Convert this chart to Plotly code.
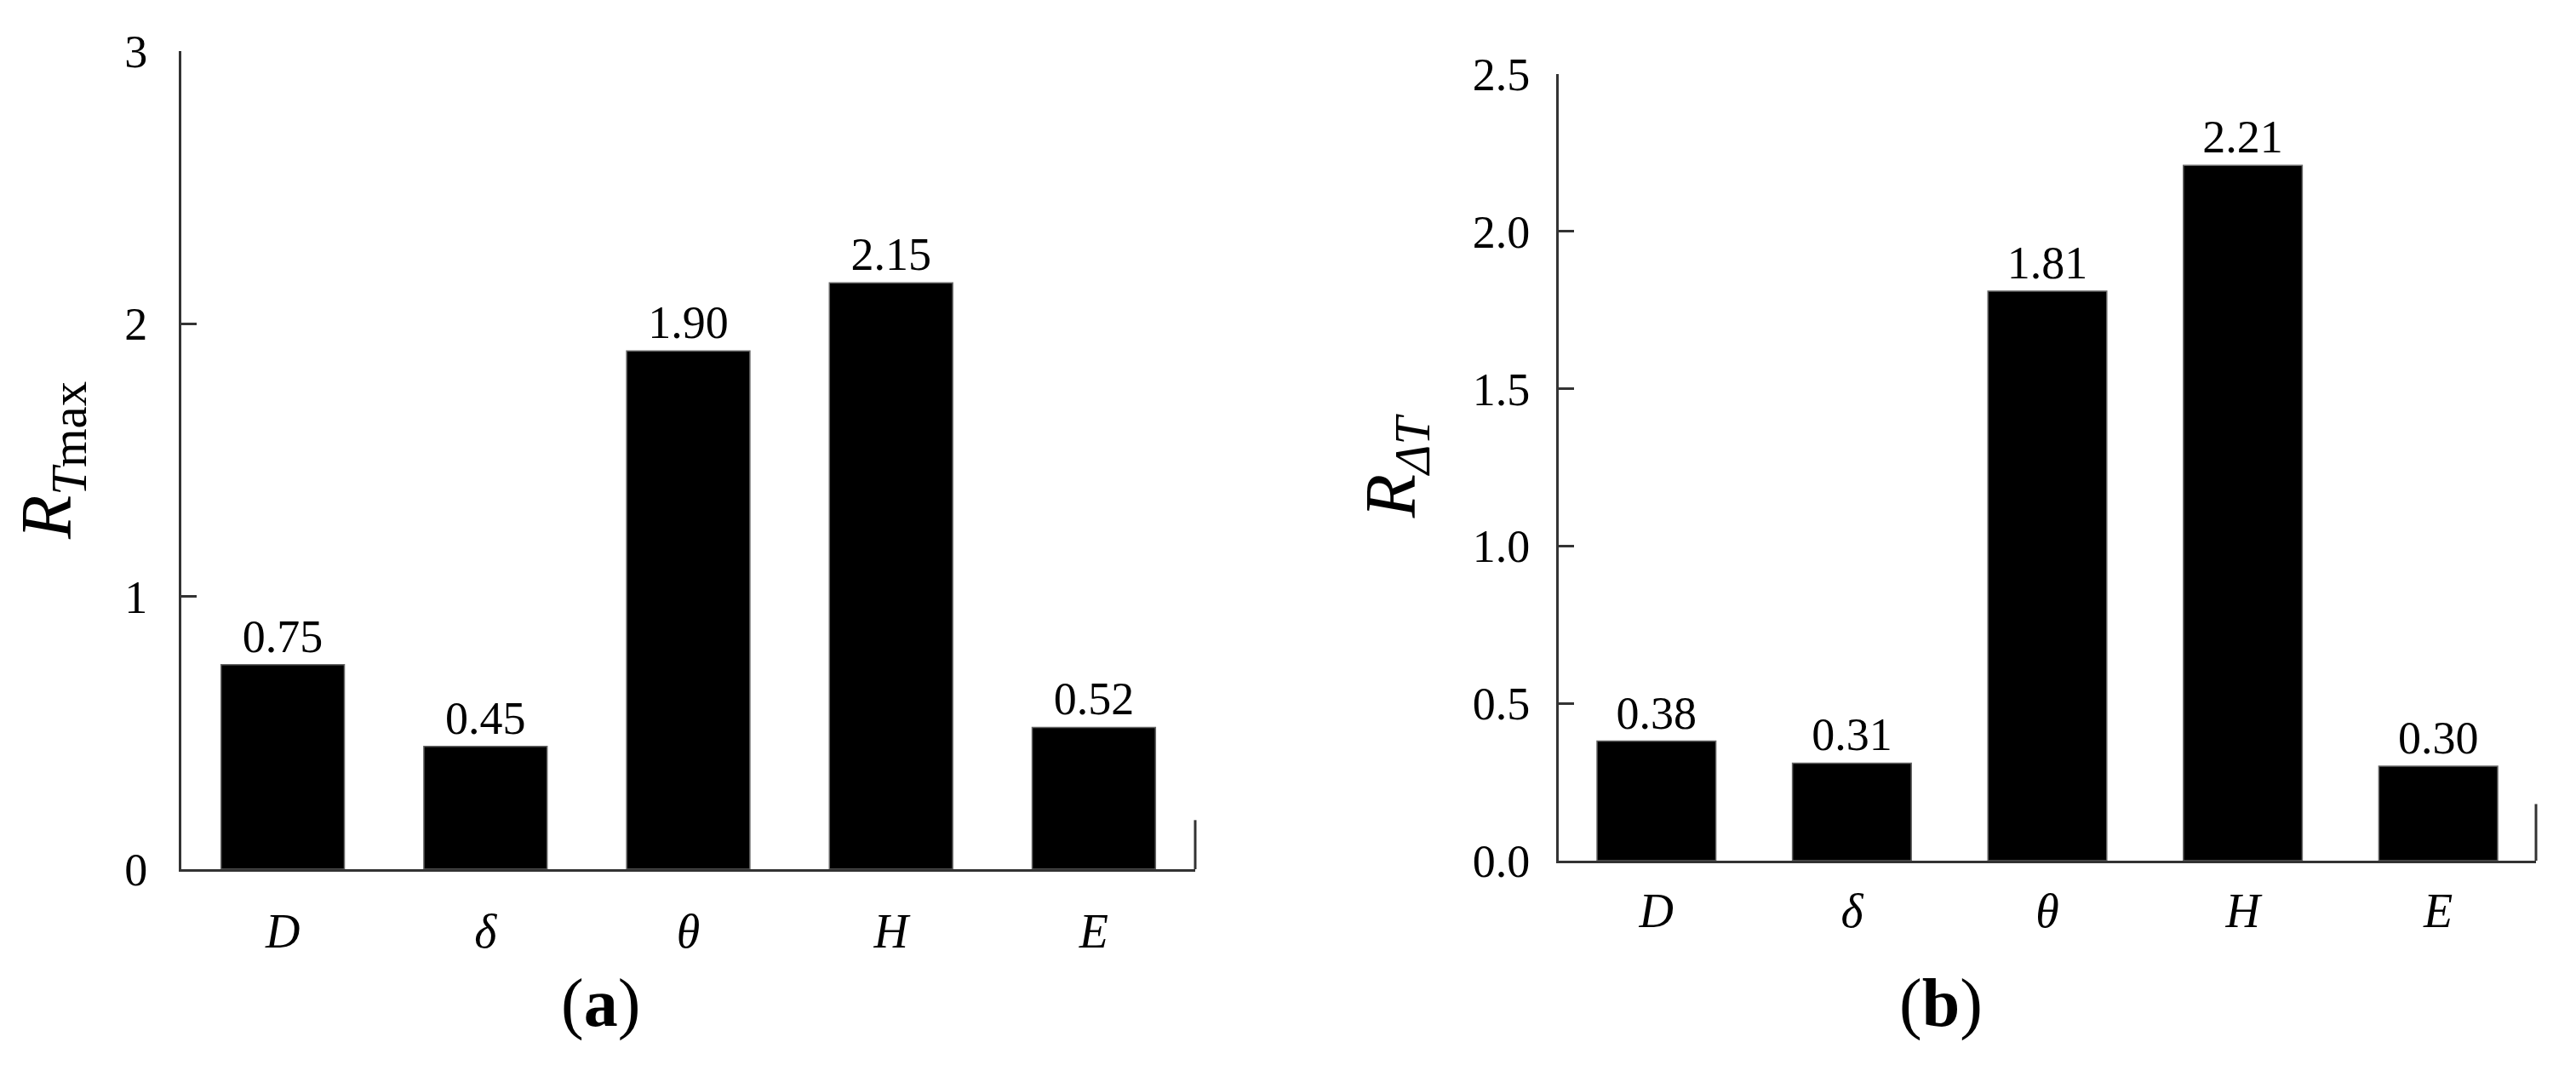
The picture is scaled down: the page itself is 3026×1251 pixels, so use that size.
import plotly.graph_objects as go

# ---- data ----
categories = ["D", "δ", "θ", "H", "E"]
tick_text = ["<i>D</i>", "<i>δ</i>", "<i>θ</i>", "<i>H</i>", "<i>E</i>"]
r_tmax = [0.75, 0.45, 1.90, 2.15, 0.52]
r_dt = [0.38, 0.31, 1.81, 2.21, 0.30]
left_yticks = [0, 1, 2, 3]
right_yticks = [0.0, 0.5, 1.0, 1.5, 2.0, 2.5]

FONT = "Liberation Serif"
LINE = "#333333"

fig = go.Figure()
fig.add_trace(go.Bar(
    x=categories, y=r_tmax, xaxis="x", yaxis="y",
    marker=dict(color="black", line=dict(color="#666666", width=1.5)),
    text=[f"{v:.2f}" for v in r_tmax], textposition="outside",
    textfont=dict(family=FONT, size=54, color="black"),
    cliponaxis=False, showlegend=False,
))
fig.add_trace(go.Bar(
    x=categories, y=r_dt, xaxis="x2", yaxis="y2",
    marker=dict(color="black", line=dict(color="#666666", width=1.5)),
    text=[f"{v:.2f}" for v in r_dt], textposition="outside",
    textfont=dict(family=FONT, size=54, color="black"),
    cliponaxis=False, showlegend=False,
))

# page body has an 8px margin: lay out in page pixels, then shift
OFF = 8
W, H = 3026 - 2 * OFF, 1251 - 2 * OFF


def px(x):
    return (x - OFF) / W


def py(y):
    return (H - (y - OFF)) / H


xd1 = [px(213), px(1404)]
xd2 = [px(1831), px(2979)]
yd1 = [py(1021), py(60)]
yd2 = [py(1011), py(87)]

common_x = dict(type="category", showline=True, linecolor=LINE, linewidth=3,
                ticks="", showgrid=False, zeroline=False, automargin=False,
                tickmode="array", tickvals=categories, ticktext=tick_text,
                tickfont=dict(family=FONT, size=56, color="black"),
                range=[-0.5, 4.5])
common_y = dict(showline=True, linecolor=LINE, linewidth=3, ticks="inside",
                ticklen=18, tickwidth=3, tickcolor=LINE, showgrid=False,
                zeroline=False, automargin=False,
                tickfont=dict(family=FONT, size=54, color="black"),
                tickmode="array")

fig.update_layout(
    width=W, height=H, autosize=False,
    margin=dict(l=0, r=0, t=0, b=0, autoexpand=False),
    paper_bgcolor="white", plot_bgcolor="white",
    font=dict(family=FONT, color="black"),
    bargap=0.392,
    xaxis=dict(domain=xd1, anchor="y", ticklabelstandoff=22, **common_x),
    xaxis2=dict(domain=xd2, anchor="y2", ticklabelstandoff=8, **common_x),
    yaxis=dict(domain=yd1, anchor="x", range=[0, 3], tickvals=left_yticks,
               ticktext=[str(v) for v in left_yticks], ticklabelstandoff=26,
               title=dict(text="<i>R</i><sub><i>T</i>max</sub>",
                          font=dict(family=FONT, size=84), standoff=40),
               **common_y),
    yaxis2=dict(domain=yd2, anchor="x2", range=[0, 2.5], tickvals=right_yticks,
                ticktext=[f"{v:.1f}" for v in right_yticks], ticklabelstandoff=20,
                title=dict(text="<i>R</i><sub><i>ΔT</i></sub>",
                           font=dict(family=FONT, size=84), standoff=40),
                **common_y),
    shapes=[
        dict(type="line", xref="x domain", yref="y", x0=1, x1=1, y0=0, y1=0.18,
             line=dict(color=LINE, width=3)),
        dict(type="line", xref="x2 domain", yref="y2", x0=1, x1=1, y0=0, y1=0.18,
             line=dict(color=LINE, width=3)),
    ],
    annotations=[
        dict(text="(<b>a</b>)", xref="paper", yref="paper", x=px(705), y=py(1178),
             showarrow=False, font=dict(family=FONT, size=80, color="black"),
             xanchor="center", yanchor="middle"),
        dict(text="(<b>b</b>)", xref="paper", yref="paper", x=px(2280), y=py(1178),
             showarrow=False, font=dict(family=FONT, size=80, color="black"),
             xanchor="center", yanchor="middle"),
    ],
)

fig.write_html("out.html")
